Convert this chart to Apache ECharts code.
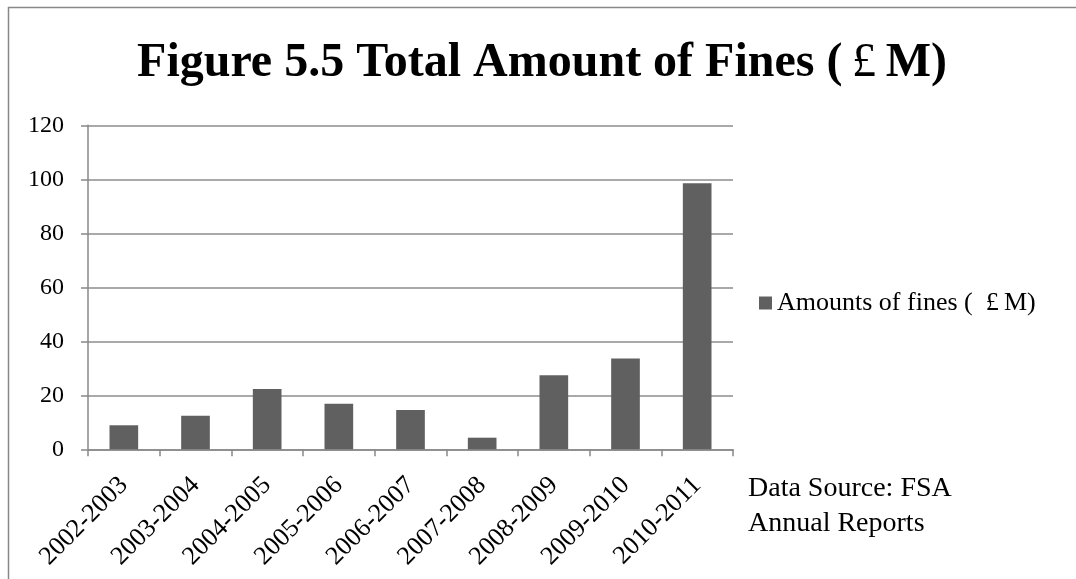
<!DOCTYPE html>
<html>
<head>
<meta charset="utf-8">
<script src="https://cdn.jsdelivr.net/npm/echarts@6/dist/echarts.min.js"></script>
<style>html,body{margin:0;padding:0;background:#fff;}#c{width:1076px;height:579px;}</style>
</head>
<body>
<div id="c"></div>
<script>
const categories = ['2002-2003','2003-2004','2004-2005','2005-2006','2006-2007','2007-2008','2008-2009','2009-2010','2010-2011'];
const fines = [8.9, 12.4, 22.3, 16.9, 14.6, 4.3, 27.4, 33.6, 98.5];
const seriesName = 'Amounts of fines (\u2002£\u2009M)';
const titleText = 'Figure 5.5 Total Amount of Fines (\u2009{p|£}\u2009M)';
const sourceLines = ['Data Source: FSA', 'Annual Reports'];
const yTicks = {min: 0, max: 120, interval: 20};

const serif = '"Liberation Serif", "Times New Roman", serif';
const chart = echarts.init(document.getElementById('c'), null, {renderer: 'canvas'});
chart.setOption({
  animation: false,
  backgroundColor: '#fff',
  grid: {left: 88, right: 343, top: 125.3, bottom: 129.7, containLabel: false},
  graphic: [
    {type: 'rect', shape: {x: 8.5, y: 7.5, width: 1200, height: 800}, style: {fill: 'none', stroke: '#888', lineWidth: 1.5}, silent: true},
    {type: 'text', x: 542, y: 63.4, style: {text: titleText, fontFamily: serif, fontSize: 48, fontWeight: 'bold', fill: '#000', align: 'center', verticalAlign: 'middle',
      rich: {p: {fontFamily: serif, fontSize: 48, fontWeight: 'normal', fill: '#000'}}}},
    {type: 'text', x: 748, y: 489, style: {text: sourceLines[0], fontFamily: serif, fontSize: 28, fill: '#000', verticalAlign: 'middle'}},
    {type: 'text', x: 748, y: 524, style: {text: sourceLines[1], fontFamily: serif, fontSize: 28, fill: '#000', verticalAlign: 'middle'}}
  ],
  legend: {
    left: 759, top: 290, orient: 'vertical', padding: 0,
    icon: 'rect', itemWidth: 13, itemHeight: 13, itemGap: 5,
    textStyle: {fontFamily: serif, fontSize: 26, color: '#000'},
    data: [seriesName]
  },
  xAxis: {
    type: 'category', data: categories,
    axisLine: {lineStyle: {color: '#888', width: 1.5}},
    axisTick: {show: true, length: 7, lineStyle: {color: '#888', width: 1.5}},
    axisLabel: {rotate: 45, fontFamily: serif, fontSize: 26, color: '#000', margin: 32, interval: 0}
  },
  yAxis: {
    type: 'value', min: yTicks.min, max: yTicks.max, interval: yTicks.interval,
    axisLine: {show: true, lineStyle: {color: '#888', width: 1.5}},
    axisTick: {show: true, length: 7, lineStyle: {color: '#888', width: 1.5}},
    axisLabel: {fontFamily: serif, fontSize: 24, color: '#000', margin: 24},
    splitLine: {lineStyle: {color: '#8c8c8c', width: 1.5}}
  },
  series: [{
    name: seriesName, type: 'bar', data: fines, barWidth: '40%',
    itemStyle: {color: '#606060'}
  }]
});
</script>
</body>
</html>
